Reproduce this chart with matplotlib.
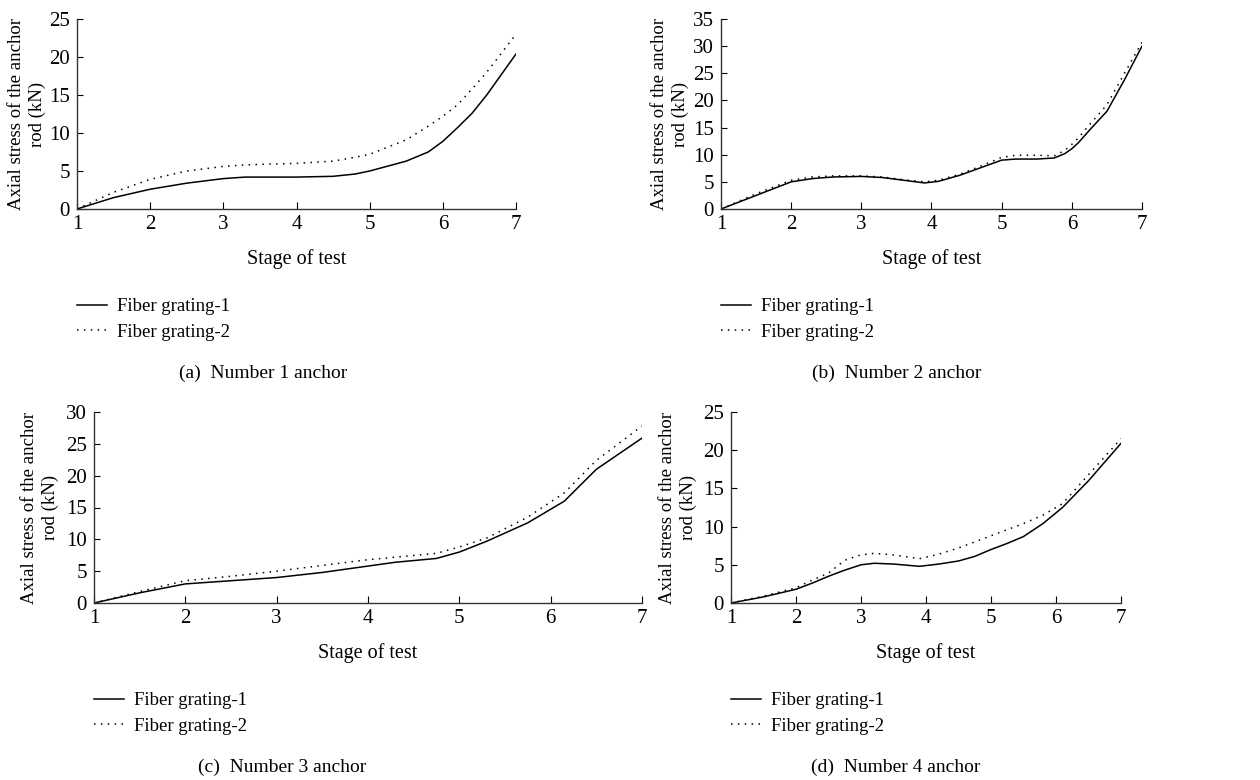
import numpy as np
import matplotlib
matplotlib.use('Agg')
import matplotlib.pyplot as plt

plt.rcParams['font.family'] = ['Liberation Serif', 'DejaVu Serif']
plt.rcParams['font.size'] = 14

# (a) Number 1 anchor
xa = [1, 1.5, 2, 2.5, 3, 3.3, 3.6, 4, 4.5, 4.8, 5, 5.5, 5.8, 6, 6.2, 6.4, 6.6, 6.8, 7]
a1 = [0, 1.5, 2.6, 3.4, 4.0, 4.2, 4.2, 4.2, 4.3, 4.6, 5.0, 6.3, 7.5, 8.9, 10.7, 12.6, 15.0, 17.7, 20.4]
a2 = [0, 2.2, 3.9, 5.0, 5.6, 5.8, 5.9, 6.0, 6.3, 6.8, 7.2, 9.1, 10.9, 12.2, 13.7, 15.8, 18.0, 20.5, 23.0]

# (b) Number 2 anchor
xb = [1, 1.5, 2, 2.3, 2.6, 3, 3.3, 3.6, 3.9, 4.1, 4.4, 4.7, 5, 5.2, 5.5, 5.75, 5.9, 6, 6.1, 6.25, 6.5, 6.75, 7]
b1 = [0, 2.5, 5.0, 5.6, 5.9, 6.0, 5.8, 5.3, 4.8, 5.1, 6.2, 7.6, 9.0, 9.2, 9.2, 9.4, 10.2, 11.1, 12.3, 14.5, 18.0, 23.8, 30.0]
b2 = [0, 2.8, 5.3, 5.9, 6.1, 6.1, 5.9, 5.4, 5.0, 5.3, 6.4, 7.9, 9.5, 9.9, 9.9, 9.8, 10.8, 11.9, 13.2, 15.5, 19.2, 25.0, 30.7]

# (c) Number 3 anchor
xc = [1, 1.5, 2, 2.5, 3, 3.5, 4, 4.3, 4.75, 5, 5.3, 5.75, 6.15, 6.5, 7]
c1 = [0, 1.6, 3.0, 3.5, 4.0, 4.8, 5.8, 6.4, 7.0, 8.0, 9.7, 12.6, 16.0, 21.0, 25.9]
c2 = [0, 1.8, 3.5, 4.2, 5.0, 5.9, 6.8, 7.2, 7.8, 8.8, 10.2, 13.5, 17.3, 22.4, 27.8]

# (d) Number 4 anchor
xd = [1, 1.5, 2, 2.25, 2.5, 2.75, 3, 3.2, 3.5, 3.9, 4.2, 4.5, 4.75, 5, 5.25, 5.5, 5.8, 6.1, 6.5, 7]
d1 = [0, 0.8, 1.8, 2.6, 3.5, 4.3, 5.0, 5.2, 5.1, 4.8, 5.1, 5.5, 6.1, 7.0, 7.8, 8.7, 10.4, 12.5, 16.0, 20.9]
d2 = [0, 0.9, 2.0, 3.0, 3.9, 5.6, 6.3, 6.5, 6.3, 5.8, 6.4, 7.2, 8.0, 8.8, 9.6, 10.4, 11.5, 13.0, 16.8, 21.5]

W, H = 1260., 780.

# pixel boxes: left, right, top, bottom of each axes; ylabel centre x
panels = [
    (xa, a1, a2, 25, (77, 516, 19, 209), 27, '(a)  Number 1 anchor', (263, 373), (77, 298)),
    (xb, b1, b2, 35, (721, 1142, 19, 209), 670, '(b)  Number 2 anchor', (897, 373), (721, 298)),
    (xc, c1, c2, 30, (94, 642, 412, 603), 40, '(c)  Number 3 anchor', (282, 767), (94, 692)),
    (xd, d1, d2, 25, (731, 1121, 412, 603), 678, '(d)  Number 4 anchor', (896, 767), (731, 692)),
]

fig = plt.figure(figsize=(12.6, 7.8), dpi=100)

for x, y1, y2, ymax, box, ylx, cap, cappos, legpos in panels:
    l, r, t, b = box
    ax = fig.add_axes([l/W, 1 - b/H, (r - l)/W, (b - t)/H])
    l1, = ax.plot(x, y1, color='black', lw=1.1, label='Fiber grating-1')
    l2, = ax.plot(x, y2, color='black', lw=1.1, ls=(0, (1, 3.5)), label='Fiber grating-2')
    ax.set_xlim(1, 7)
    ax.set_ylim(0, ymax)
    ax.set_xticks(range(1, 8))
    ax.set_yticks(np.arange(0, ymax + 1, 5))
    ax.spines['top'].set_visible(False)
    ax.spines['right'].set_visible(False)
    for s in ['left', 'bottom']:
        ax.spines[s].set_color('#333333')
        ax.spines[s].set_linewidth(1.0)
    ax.tick_params(axis='x', direction='in', length=5, pad=4, labelsize=15)
    ax.tick_params(axis='y', direction='in', length=4, pad=5, labelsize=15)
    ax.set_xlabel('Stage of test', labelpad=11, fontsize=14.5)
    ax.set_ylabel('Axial stress of the anchor\nrod (kN)', fontsize=13.5,
                  linespacing=1.25, va='center')
    ax.yaxis.set_label_coords((ylx - l)/(r - l), 0.5)
    ax.legend(handles=[l1, l2], loc='upper left',
              bbox_to_anchor=(legpos[0]/W, 1 - legpos[1]/H),
              bbox_transform=fig.transFigure, frameon=False,
              handlelength=1.6, handletextpad=0.55, borderpad=0, borderaxespad=0,
              labelspacing=0.45, fontsize=13.5)
    fig.text(cappos[0]/W, 1 - cappos[1]/H, cap, ha='center', va='center', fontsize=14)

fig.savefig('out.png', dpi=100)
